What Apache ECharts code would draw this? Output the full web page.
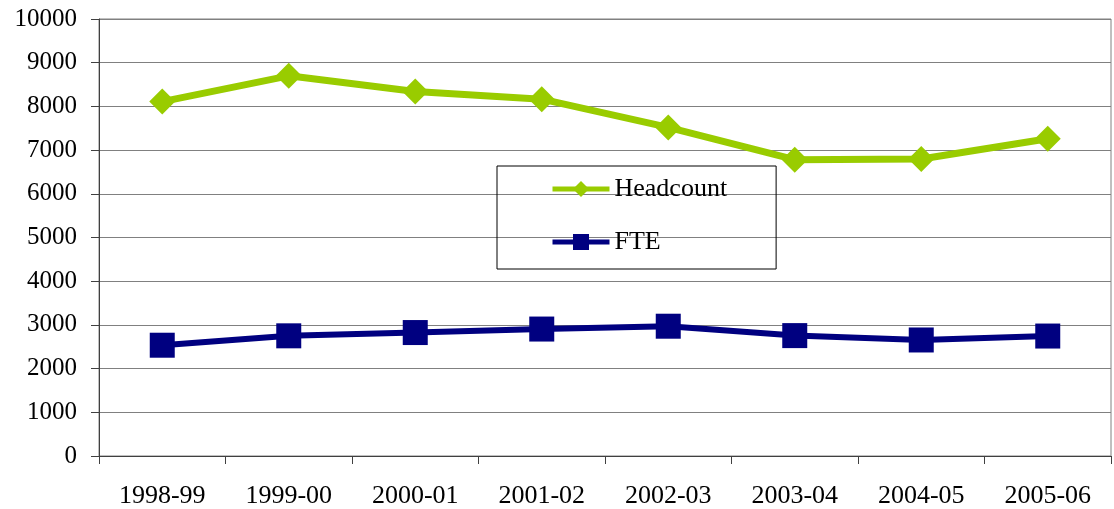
<!DOCTYPE html>
<html>
<head>
<meta charset="utf-8">
<script src="https://cdn.jsdelivr.net/npm/echarts@6/dist/echarts.min.js"></script>
<style>
    html, body { margin: 0; padding: 0; background: #fff; }
    #chart { width: 1114px; height: 509px; }
</style>
</head>
<body>
<div id="chart"></div>
<script>
// values
var years = ['1998-99', '1999-00', '2000-01', '2001-02', '2002-03', '2003-04', '2004-05', '2005-06'];
var headcount = [8110, 8700, 8340, 8165, 7520, 6780, 6795, 7260];
var fte = [2535, 2750, 2825, 2905, 2970, 2755, 2655, 2745];

var serif = '"Liberation Serif", "Times New Roman", serif';

var myChart = echarts.init(document.getElementById('chart'));
var option = {
    animation: false,
    grid: {
        left: 99,
        right: 3,
        top: 19,
        bottom: 53,
        show: true,
        borderColor: '#808080',
        borderWidth: 1
    },
    legend: {
        orient: 'vertical',
        left: 497,
        top: 166,
        padding: [10, 49, 14, 53],
        itemWidth: 57,
        itemHeight: 20,
        itemGap: 27,
        itemTextGap: 7,
        borderColor: '#000',
        borderWidth: 1,
        lineStyle: { width: 5 },
        textStyle: { fontFamily: serif, fontSize: 26, color: '#000' },
        data: ['Headcount', 'FTE']
    },
    xAxis: {
        type: 'category',
        boundaryGap: true,
        data: years,
        axisLine: { lineStyle: { color: '#404040', width: 1 } },
        axisTick: { show: true, interval: 0, length: 8, lineStyle: { color: '#404040' } },
        axisLabel: { interval: 0, margin: 27, fontFamily: serif, fontSize: 26, color: '#000' },
        splitLine: { show: false }
    },
    yAxis: {
        type: 'value',
        min: 0,
        max: 10000,
        interval: 1000,
        axisLine: { show: true, lineStyle: { color: '#404040', width: 1 } },
        axisTick: { show: true, length: 8, lineStyle: { color: '#404040' } },
        axisLabel: {
            margin: 22, fontFamily: serif, fontSize: 25, color: '#000',
            formatter: function (v) { return String(v); }
        },
        splitLine: { show: true, lineStyle: { color: '#808080', width: 1 } }
    },
    series: [
        {
            name: 'Headcount',
            type: 'line',
            data: headcount,
            symbol: 'diamond',
            symbolSize: 26,
            itemStyle: { color: '#99cc00' },
            lineStyle: { color: '#99cc00', width: 7 }
        },
        {
            name: 'FTE',
            type: 'line',
            data: fte,
            symbol: 'rect',
            symbolSize: 25,
            itemStyle: { color: '#000080' },
            lineStyle: { color: '#000080', width: 6 }
        }
    ]
};
option && myChart.setOption(option);
</script>
</body>
</html>
